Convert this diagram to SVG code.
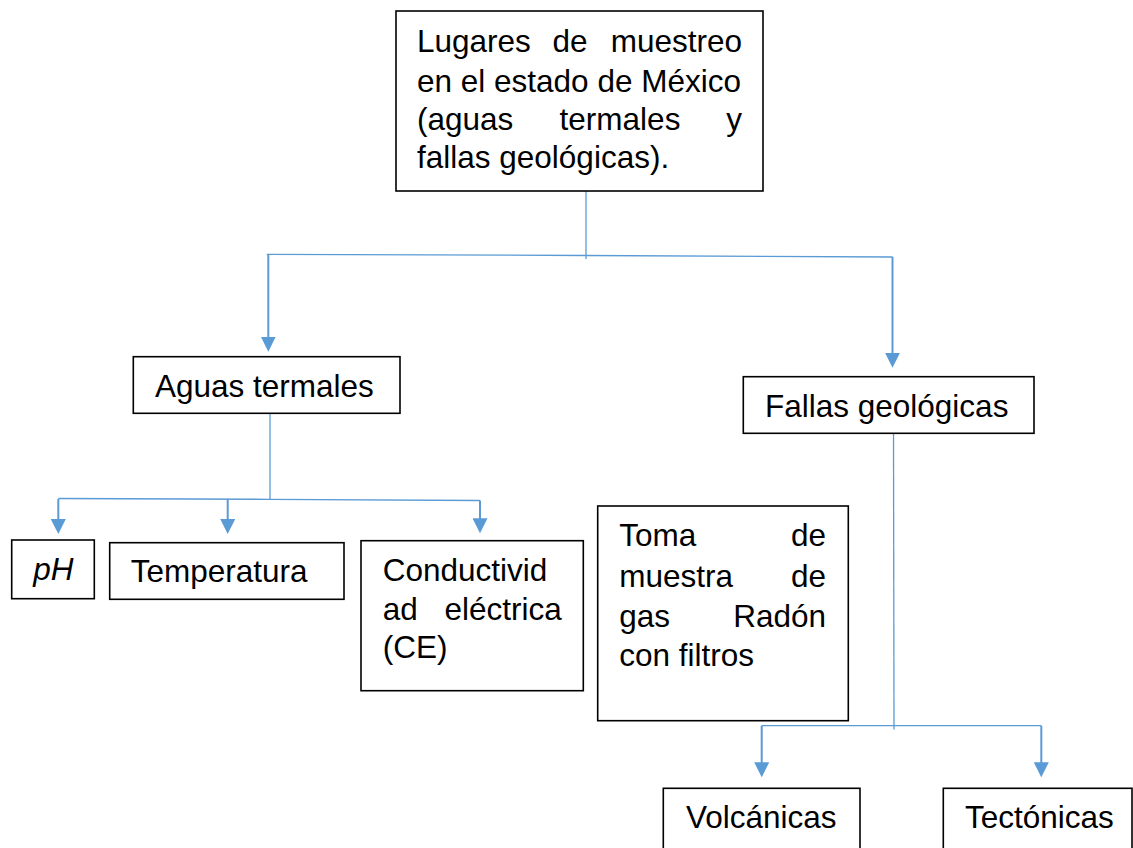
<svg xmlns="http://www.w3.org/2000/svg" width="1133" height="848" viewBox="0 0 1133 848">
<style>
.box{fill:#fff;stroke:#000;stroke-width:1.6}
.t{font-family:"Liberation Sans",Arial,sans-serif;font-size:31.5px;fill:#000}
.c{fill:none;stroke:#5B9BD5;stroke-width:1.3}
.a{fill:none;stroke:#5B9BD5;stroke-width:2}
</style>
<defs>
<marker id="ah" markerUnits="userSpaceOnUse" markerWidth="15" markerHeight="15" viewBox="0 0 15 15" refX="10" refY="7.5" orient="auto">
<path d="M0,0 L15,7.5 L0,15 Z" fill="#5B9BD5"/>
</marker>
</defs>
<rect width="1133" height="848" fill="#fff"/>
<g id="connectors">
<line class="c" x1="586" y1="191" x2="586" y2="259"/>
<polyline class="c" points="266.7,254.3 586,255.5 892.7,257"/>
<line class="c" x1="270" y1="413" x2="270" y2="499"/>
<polyline class="c" points="58.3,498.5 270,499.3 480,500.5"/>
<line class="c" x1="893.5" y1="433" x2="894" y2="729.5"/>
<line class="c" x1="761.7" y1="725.7" x2="1041.3" y2="725.7"/>
<line class="a" x1="268.3" y1="254.5" x2="268.3" y2="346.7" marker-end="url(#ah)"/>
<line class="a" x1="892.5" y1="257" x2="892.5" y2="362.7" marker-end="url(#ah)"/>
<line class="a" x1="58.3" y1="499" x2="58.3" y2="529" marker-end="url(#ah)"/>
<line class="a" x1="227.7" y1="499" x2="227.7" y2="529" marker-end="url(#ah)"/>
<line class="a" x1="480" y1="500.5" x2="480" y2="528.3" marker-end="url(#ah)"/>
<line class="a" x1="761.7" y1="725.7" x2="761.7" y2="772.3" marker-end="url(#ah)"/>
<line class="a" x1="1041.3" y1="725.7" x2="1041.3" y2="772.3" marker-end="url(#ah)"/>
</g>
<g id="root">
<rect class="box" x="396" y="11" width="367" height="180"/>
<text class="t" y="52"><tspan x="417">Lugares</tspan><tspan x="570" text-anchor="middle">de</tspan><tspan x="742" text-anchor="end">muestreo</tspan></text>
<text class="t" x="417" y="91.7">en el estado de México</text>
<text class="t" y="130"><tspan x="417">(aguas</tspan><tspan x="620" text-anchor="middle">termales</tspan><tspan x="742" text-anchor="end">y</tspan></text>
<text class="t" x="417" y="168.3">fallas geológicas).</text>
</g>
<g id="aguas">
<rect class="box" x="133.3" y="356.7" width="266.7" height="56.6"/>
<text class="t" x="155" y="396.7">Aguas termales</text>
</g>
<g id="fallas">
<rect class="box" x="743.3" y="376.7" width="290.7" height="56.6"/>
<text class="t" x="765" y="416.7">Fallas geológicas</text>
</g>
<g id="ph">
<rect class="box" x="11.7" y="540" width="82.6" height="58.7"/>
<text class="t" x="33.3" y="580" font-style="italic">pH</text>
</g>
<g id="temperatura">
<rect class="box" x="109.7" y="542.7" width="234.3" height="56.6"/>
<text class="t" x="130.7" y="581.7">Temperatura</text>
</g>
<g id="conductividad">
<rect class="box" x="361" y="540.7" width="222.3" height="150"/>
<text class="t" x="382.7" y="580.7">Conductivid</text>
<text class="t" y="620"><tspan x="382.7">ad</tspan><tspan x="561.7" text-anchor="end">eléctrica</tspan></text>
<text class="t" x="382.7" y="658.3">(CE)</text>
</g>
<g id="radon">
<rect class="box" x="597.7" y="506" width="250.6" height="214.7"/>
<text class="t" y="546"><tspan x="619.3">Toma</tspan><tspan x="826" text-anchor="end">de</tspan></text>
<text class="t" y="586.7"><tspan x="619.3">muestra</tspan><tspan x="826" text-anchor="end">de</tspan></text>
<text class="t" y="626.7"><tspan x="619.3">gas</tspan><tspan x="826" text-anchor="end">Radón</tspan></text>
<text class="t" x="619.3" y="666">con filtros</text>
</g>
<g id="volcanicas">
<rect class="box" x="663.3" y="788.3" width="196.7" height="80"/>
<text class="t" x="686" y="828.3">Volcánicas</text>
</g>
<g id="tectonicas">
<rect class="box" x="943.3" y="788.3" width="188.7" height="80"/>
<text class="t" x="965" y="828">Tectónicas</text>
</g>
</svg>
